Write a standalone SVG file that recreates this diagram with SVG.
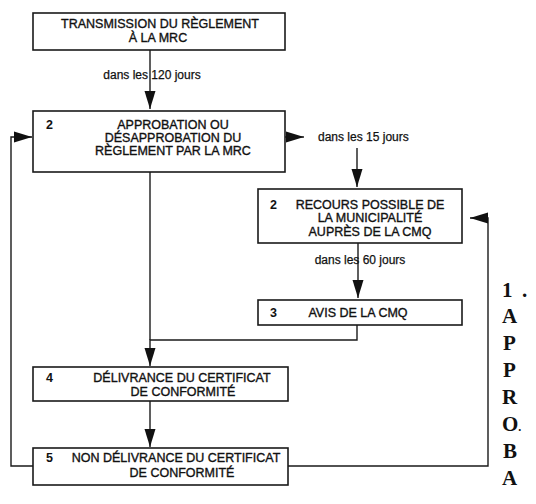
<svg xmlns="http://www.w3.org/2000/svg" width="536" height="504" viewBox="0 0 536 504">
<style>
.box{fill:#fff;stroke:#1a1a1a;stroke-width:1.6}
.t{font-family:"Liberation Sans",Arial,sans-serif;font-size:12.5px;fill:#111;stroke:#111;stroke-width:0.35;text-anchor:middle}
.n{font-family:"Liberation Sans",Arial,sans-serif;font-size:12.5px;fill:#111;font-weight:bold}
.lbl{font-family:"Liberation Sans",Arial,sans-serif;font-size:12px;fill:#111;stroke:#111;stroke-width:0.25}
.big{font-family:"Liberation Serif","Times New Roman",serif;font-size:21px;font-weight:bold;fill:#111}
.c{fill:none;stroke:#1a1a1a;stroke-width:1.4}
</style>
<defs>
<marker id="ah" markerUnits="userSpaceOnUse" markerWidth="18" markerHeight="12" refX="18" refY="6" orient="auto">
<path d="M0,0.5 L18,6 L0,11.5 z" fill="#111"/>
</marker>
</defs>
<rect width="536" height="504" fill="#fff"/>
<g id="connectors">
<path class="c" d="M150,50 V109" marker-end="url(#ah)"/>
<path class="c" d="M285,137 H304" marker-end="url(#ah)"/>
<path class="c" d="M357,148 V187" marker-end="url(#ah)"/>
<path class="c" d="M358,243 V298" marker-end="url(#ah)"/>
<path class="c" d="M150,172 V340"/>
<path class="c" d="M357,325 V340 H150 V366" marker-end="url(#ah)"/>
<path class="c" d="M150,401 V447" marker-end="url(#ah)"/>
<path class="c" d="M33,466 H11 V137 H32" marker-end="url(#ah)"/>
<path class="c" d="M288,466 H488 V218 H470" marker-end="url(#ah)"/>
</g>
<g id="n1">
<rect class="box" x="33" y="13" width="252" height="37"/>
<text class="t" x="160" y="28">TRANSMISSION DU RÈGLEMENT</text>
<text class="t" x="158" y="42">À LA MRC</text>
</g>
<g id="l120">
<text class="lbl" x="152" y="79" text-anchor="middle">dans les 120 jours</text>
</g>
<g id="n2">
<rect class="box" x="33" y="111" width="252" height="61"/>
<text class="n" x="46" y="129">2</text>
<text class="t" x="173" y="129">APPROBATION OU</text>
<text class="t" x="173" y="142">DÉSAPPROBATION DU</text>
<text class="t" x="173" y="155">RÈGLEMENT PAR LA MRC</text>
</g>
<g id="l15">
<text class="lbl" x="318" y="141">dans les 15 jours</text>
</g>
<g id="n3">
<rect class="box" x="258" y="189" width="204" height="54"/>
<text class="n" x="270" y="209">2</text>
<text class="t" x="370" y="209">RECOURS POSSIBLE DE</text>
<text class="t" x="370" y="222">LA MUNICIPALITÉ</text>
<text class="t" x="370" y="236">AUPRÈS DE LA CMQ</text>
</g>
<g id="l60">
<text class="lbl" x="360" y="264" text-anchor="middle">dans les 60 jours</text>
</g>
<g id="n4">
<rect class="box" x="258" y="300" width="204" height="25"/>
<text class="n" x="270" y="317">3</text>
<text class="t" x="358" y="317">AVIS DE LA CMQ</text>
</g>
<g id="n5">
<rect class="box" x="33" y="367" width="255" height="34"/>
<text class="n" x="46" y="382">4</text>
<text class="t" x="182" y="382">DÉLIVRANCE DU CERTIFICAT</text>
<text class="t" x="183" y="396">DE CONFORMITÉ</text>
</g>
<g id="n6">
<rect class="box" x="33" y="448" width="255" height="37"/>
<text class="n" x="46" y="462">5</text>
<text class="t" x="176" y="462">NON DÉLIVRANCE DU CERTIFICAT</text>
<text class="t" x="182" y="477">DE CONFORMITÉ</text>
</g>
<g id="side">
<text class="big" x="502" y="297">1<tspan x="522">.</tspan></text>
<text class="big" x="502" y="323">A</text>
<text class="big" x="503" y="350">P</text>
<text class="big" x="503" y="377">P</text>
<text class="big" x="502" y="404">R</text>
<text class="big" x="502" y="431">O<tspan font-size="12">.</tspan></text>
<text class="big" x="503" y="458">B</text>
<text class="big" x="502" y="485">A</text>
</g>
</svg>
